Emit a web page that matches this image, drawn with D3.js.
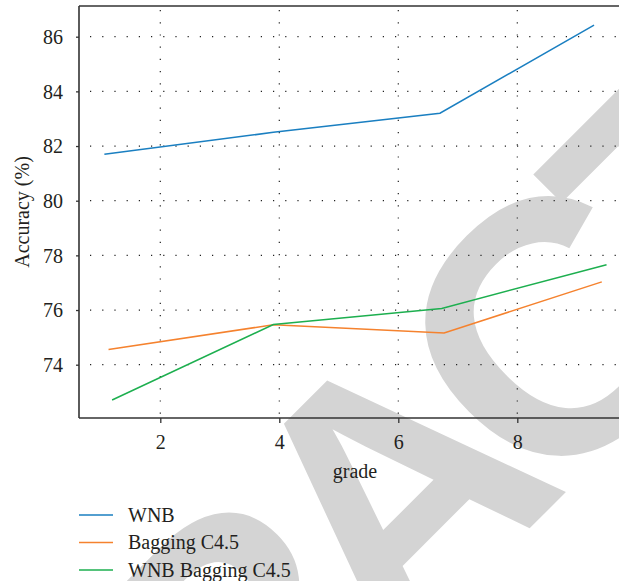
<!DOCTYPE html>
<html>
<head>
<meta charset="utf-8">
<script src="https://cdn.jsdelivr.net/npm/d3@7"></script>
<style>
  html, body { margin: 0; padding: 0; background: #fff; }
  svg { display: block; }
</style>
</head>
<body>
<div id="chart"></div>
<script>
// values
const seriesNames = ['WNB', 'Bagging C4.5', 'WNB Bagging C4.5'];
const wnbGrade = [1.06, 3.9, 6.7, 9.29];
const wnbAcc = [81.70, 82.50, 83.20, 86.42];
const baggingGrade = [1.13, 3.9, 6.77, 9.42];
const baggingAcc = [74.56, 75.46, 75.16, 77.03];
const wnbBaggingGrade = [1.19, 3.9, 6.73, 9.50];
const wnbBaggingAcc = [72.71, 75.47, 76.06, 77.66];
const xTicks = [2, 4, 6, 8];
const yTicks = [74, 76, 78, 80, 82, 84, 86];
const colors = ['#1a7fc1', '#f5822e', '#1daf4f'];

const W = 619, H = 581;
const plot = { left: 79, right: 619, top: 6, bottom: 418 };
const textColor = '#231f20';
const font = '"Liberation Serif", "DejaVu Serif", serif';

const svg = d3.select('#chart').append('svg')
  .attr('width', W)
  .attr('height', H)
  .style('font-family', font);

// watermark behind everything
svg.append('text')
  .attr('transform', 'translate(468,590) rotate(-45)')
  .attr('text-anchor', 'middle')
  .style('font-family', '"Liberation Sans", Arial, sans-serif')
  .style('font-weight', 'bold')
  .style('font-size', '360px')
  .style('letter-spacing', '-36px')
  .attr('fill', '#d4d4d4')
  .text('RETRACTED');

// scales (calibrated on the tick positions)
const x = d3.scaleLinear().domain([2, 8]).range([160.3, 517.3]);
const y = d3.scaleLinear().domain([74, 86]).range([364.7, 36.7]);

// dotted grid
const grid = svg.append('g')
  .attr('stroke', '#222')
  .attr('stroke-width', 1.2)
  .attr('stroke-dasharray', '1.2 11');

grid.selectAll('line.h')
  .data(yTicks)
  .join('line')
  .attr('class', 'h')
  .attr('x1', plot.left + 11)
  .attr('x2', plot.right)
  .attr('y1', d => y(d))
  .attr('y2', d => y(d));

grid.selectAll('line.v')
  .data(xTicks)
  .join('line')
  .attr('class', 'v')
  .attr('x1', d => x(d))
  .attr('x2', d => x(d))
  .attr('y1', plot.top + 4)
  .attr('y2', plot.bottom);

// axes
const xAxis = svg.append('g')
  .attr('transform', `translate(0,${plot.bottom})`)
  .call(d3.axisBottom(x).tickValues(xTicks).tickFormat(d3.format('d'))
    .tickSize(5).tickSizeOuter(0).tickPadding(12));

const yAxis = svg.append('g')
  .attr('transform', `translate(${plot.left},0)`)
  .call(d3.axisLeft(y).tickValues(yTicks).tickFormat(d3.format('d'))
    .tickSize(3).tickSizeOuter(0).tickPadding(13));

[xAxis, yAxis].forEach(a => {
  a.select('.domain').remove();
  a.selectAll('line').attr('stroke', '#333').attr('stroke-width', 1.3);
  a.selectAll('text')
    .attr('fill', textColor)
    .style('font-family', font)
    .style('font-size', '20px');
});
yAxis.selectAll('text').attr('dy', '0.34em');

// frame: left, top, bottom
const frame = svg.append('g').attr('stroke', '#333').attr('stroke-width', 1.6).attr('fill', 'none');
frame.append('line').attr('x1', plot.left).attr('x2', plot.left).attr('y1', plot.top).attr('y2', plot.bottom);
frame.append('line').attr('x1', plot.left).attr('x2', plot.right).attr('y1', plot.top).attr('y2', plot.top);
frame.append('line').attr('x1', plot.left).attr('x2', plot.right).attr('y1', plot.bottom).attr('y2', plot.bottom);

// series lines
const series = [
  { name: seriesNames[0], grade: wnbGrade, acc: wnbAcc },
  { name: seriesNames[1], grade: baggingGrade, acc: baggingAcc },
  { name: seriesNames[2], grade: wnbBaggingGrade, acc: wnbBaggingAcc }
];

const line = d3.line()
  .x(d => x(d[0]))
  .y(d => y(d[1]));

svg.append('g')
  .selectAll('path')
  .data(series)
  .join('path')
  .attr('fill', 'none')
  .attr('stroke', (d, i) => colors[i])
  .attr('stroke-width', 1.5)
  .attr('d', d => line(d.grade.map((g, i) => [g, d.acc[i]])));

// axis titles
svg.append('text')
  .attr('x', 355)
  .attr('y', 478)
  .attr('text-anchor', 'middle')
  .attr('fill', textColor)
  .style('font-size', '20px')
  .text('grade');

svg.append('text')
  .attr('transform', 'translate(29,212) rotate(-90)')
  .attr('text-anchor', 'middle')
  .attr('fill', textColor)
  .style('font-size', '20px')
  .text('Accuracy (%)');

// legend
const legend = svg.append('g')
  .selectAll('g')
  .data(series)
  .join('g')
  .attr('transform', (d, i) => `translate(79,${515 + i * 27.5})`);

legend.append('line')
  .attr('x1', 0)
  .attr('x2', 34)
  .attr('stroke', (d, i) => colors[i])
  .attr('stroke-width', 1.5);

legend.append('text')
  .attr('x', 49)
  .attr('y', 6.5)
  .attr('fill', textColor)
  .style('font-size', '20px')
  .text(d => d.name);
</script>
</body>
</html>
